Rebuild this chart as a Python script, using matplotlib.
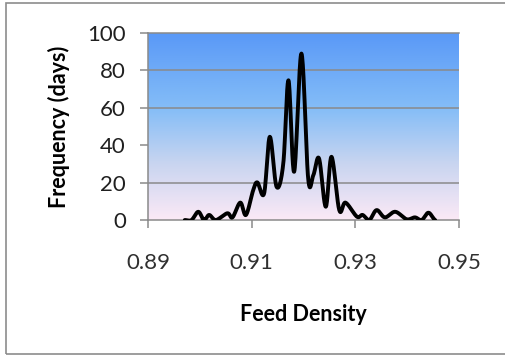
import numpy as np
import matplotlib
matplotlib.use("Agg")
from matplotlib import pyplot as plt
from matplotlib.colors import LinearSegmentedColormap
from matplotlib.patches import Rectangle

# feed density vs number of days
density = [0.8971, 0.8984, 0.8997, 0.9008, 0.9018, 0.9031, 0.9053, 0.9063,
           0.9078, 0.9089, 0.9103, 0.9111, 0.9124, 0.9135, 0.9148, 0.9161,
           0.9171, 0.9182, 0.9196, 0.9209, 0.9219, 0.9230, 0.9243, 0.9254,
           0.9269, 0.9281, 0.9303, 0.9314, 0.9327, 0.9341, 0.9357, 0.9377,
           0.9399, 0.9415, 0.9428, 0.9441, 0.9454]
days = [0, 0, 4.4, 0, 2.7, 0, 3.6, 1.4,
        9.3, 2.7, 16, 20.1, 14.2, 44.5, 17.8, 30.2,
        74.7, 25.8, 89, 22.2, 24, 32.9, 7.1, 33.8,
        5.3, 9.3, 1.8, 2.7, 0, 5.3, 1.4, 4.4,
        0.4, 1.4, 0, 3.9, 0]

xticks = [0.89, 0.91, 0.93, 0.95]
xtick_labels = ["0.89", "0.91", "0.93", "0.95"]
yticks = [0, 20, 40, 60, 80, 100]


def smooth(xs, ys, n=20):
    # catmull-rom like excel's smoothed line
    xs = np.asarray(xs, float)
    ys = np.asarray(ys, float)
    px = np.concatenate([[2 * xs[0] - xs[1]], xs, [2 * xs[-1] - xs[-2]]])
    py = np.concatenate([[ys[0]], ys, [ys[-1]]])
    outx, outy = [], []
    t = np.linspace(0, 1, n, endpoint=False)
    for i in range(1, len(px) - 2):
        for p, o in ((px, outx), (py, outy)):
            p0, p1, p2, p3 = p[i - 1], p[i], p[i + 1], p[i + 2]
            o.extend(0.5 * (2 * p1 + (-p0 + p2) * t
                            + (2 * p0 - 5 * p1 + 4 * p2 - p3) * t ** 2
                            + (-p0 + 3 * p1 - 3 * p2 + p3) * t ** 3))
    outx.append(xs[-1])
    outy.append(ys[-1])
    return np.array(outx), np.array(outy)


plt.rcParams['font.family'] = ['Lato', 'DejaVu Sans']

fig = plt.figure(figsize=(5.05, 3.56), dpi=100)
fig.patches.append(Rectangle((6 / 505, 2 / 356), 1.0, 351 / 356, transform=fig.transFigure,
                             fill=False, edgecolor="#8c8c8c", linewidth=1.2))
ax = fig.add_axes([148 / 505, 1 - 220 / 356, 311 / 505, 187 / 356])

# gradient background
cmap = LinearSegmentedColormap.from_list("bg", [(0.0, "#fbe9f6"), (0.3, "#c9d5f0"),
                                                (0.6, "#84bdf7"), (1.0, "#5a99f7")])
grad = np.linspace(0, 1, 256).reshape(-1, 1)
ax.imshow(grad, cmap=cmap, aspect="auto", extent=[0.89, 0.95, 0, 100],
          origin="lower", zorder=0)

for g in [20, 60, 80]:
    ax.axhline(g, color="#8a8a8a", linewidth=1.1, zorder=1)

sx, sy = smooth(density, days)
ax.plot(sx, sy, color="black", linewidth=2.8, zorder=3, solid_capstyle="round")

ax.set_xlim(0.89, 0.95)
ax.set_ylim(0, 100)
ax.set_xticks(xticks)
ax.set_xticklabels(xtick_labels)
ax.set_yticks(yticks)

for s in ["right"]:
    ax.spines[s].set_visible(False)
for s in ["left", "bottom", "top"]:
    ax.spines[s].set_color("#8a8a8a")
    ax.spines[s].set_linewidth(1.1)

ax.tick_params(axis="x", length=6, width=1.1, color="#8a8a8a", pad=18,
               labelsize=16, labelcolor="#303030")
ax.tick_params(axis="y", length=6, width=1.1, color="#8a8a8a", pad=10,
               labelsize=16, labelcolor="#202020")

ax.set_xlabel("Feed Density", fontsize=15.5, fontweight="bold", labelpad=22)
ax.set_ylabel("Frequency (days)", fontsize=15.5, fontweight="bold", labelpad=12)

fig.savefig("out.png", dpi=100)
